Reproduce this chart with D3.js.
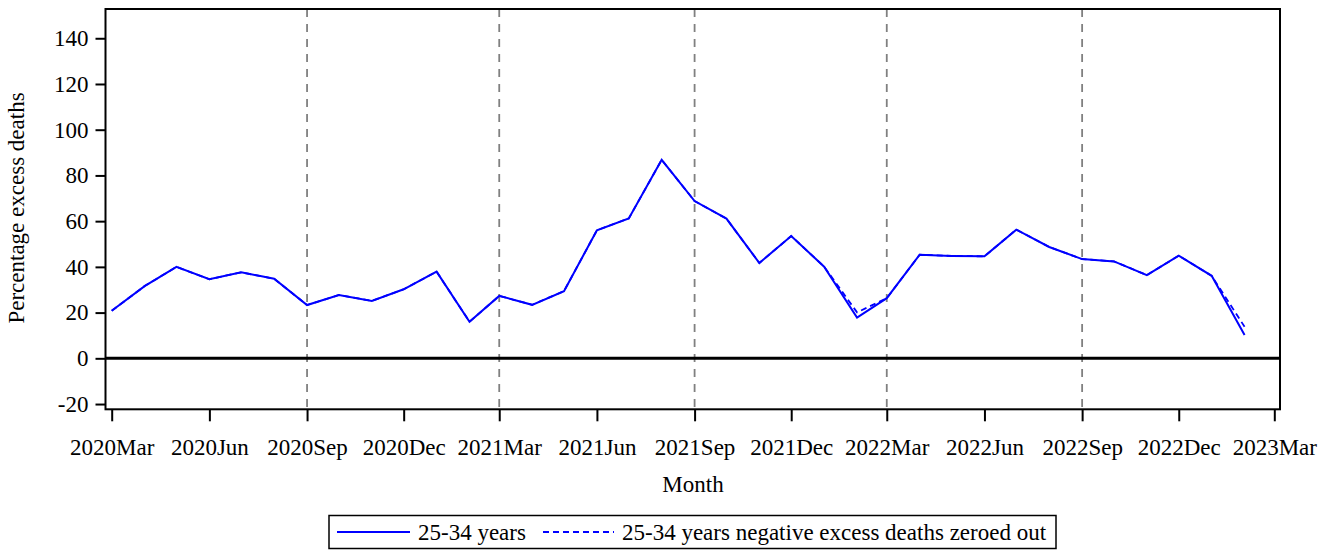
<!DOCTYPE html>
<html>
<head>
<meta charset="utf-8">
<script src="https://cdn.jsdelivr.net/npm/d3@7"></script>
<style>
  body { margin: 0; background: #fff; }
  svg { display: block; }
  svg text { font-family: "Liberation Serif", "Times New Roman", serif !important; }
</style>
</head>
<body>
<svg id="chart" width="1336" height="550"></svg>
<script>
const months = ["2020-03","2020-04","2020-05","2020-06","2020-07","2020-08","2020-09","2020-10","2020-11","2020-12",
  "2021-01","2021-02","2021-03","2021-04","2021-05","2021-06","2021-07","2021-08","2021-09","2021-10","2021-11","2021-12",
  "2022-01","2022-02","2022-03","2022-04","2022-05","2022-06","2022-07","2022-08","2022-09","2022-10","2022-11","2022-12",
  "2023-01","2023-02"];
const excess = [20.8,31.6,40.0,34.6,37.6,34.8,23.3,27.7,25.1,30.2,
  37.9,16.0,27.3,23.4,29.4,56.0,61.2,86.8,68.8,61.1,41.7,53.5,
  40.1,17.8,26.3,45.3,44.8,44.6,56.3,48.7,43.4,42.4,36.4,44.9,
  36.1,10.2];
const excessZeroed = [20.8,31.6,40.0,34.6,37.6,34.8,23.3,27.7,25.1,30.2,
  37.9,16.0,27.3,23.4,29.4,56.0,61.2,86.8,68.8,61.1,41.7,53.5,
  40.1,20.1,26.3,45.3,44.8,44.6,56.3,48.7,43.4,42.4,36.4,44.9,
  36.1,13.8];
const xTickLabels = ["2020-03","2020-06","2020-09","2020-12","2021-03","2021-06","2021-09","2021-12","2022-03","2022-06","2022-09","2022-12","2023-03"];
const refLineMonths = ["2020-09","2021-03","2021-09","2022-03","2022-09"];
const yTicks = [-20,0,20,40,60,80,100,120,140];
const seriesNames = ["25-34 years","25-34 years negative excess deaths zeroed out"];

const parse = d3.timeParse("%Y-%m");
const fmt = d3.timeFormat("%Y%b");
const svg = d3.select("#chart");
const SERIF = '"Liberation Serif", "Times New Roman", serif';

const L = 105.5, R = 1280, T = 9, B = 409.3;
const x = d3.scaleTime().domain([parse("2020-03"), parse("2023-03")]).range([111.7, 1274.3]);
const y = d3.scaleLinear().domain([-22.3, 152.8]).range([B, T]);

// reference vertical dashed lines
svg.append("g").selectAll("line").data(refLineMonths).join("line")
  .attr("x1", d => x(parse(d))).attr("x2", d => x(parse(d)))
  .attr("y1", T).attr("y2", B)
  .attr("stroke", "#808080").attr("stroke-width", 1.8).attr("stroke-dasharray", "8,7");

// zero line
svg.append("line").attr("x1", L).attr("x2", R).attr("y1", y(0)).attr("y2", y(0))
  .attr("stroke", "#000").attr("stroke-width", 3);

// series
const pts = a => a.map((v, i) => [parse(months[i]), v]);
const line = d3.line().x(d => x(d[0])).y(d => y(d[1]));
svg.append("path").datum(pts(excessZeroed)).attr("d", line)
  .attr("fill", "none").attr("stroke", "#0000ff").attr("stroke-width", 1.8).attr("stroke-dasharray", "6,4");
svg.append("path").datum(pts(excess)).attr("d", line)
  .attr("fill", "none").attr("stroke", "#0000ff").attr("stroke-width", 2);

// frame
svg.append("rect").attr("x", L).attr("y", T).attr("width", R - L).attr("height", B - T)
  .attr("fill", "none").attr("stroke", "#000").attr("stroke-width", 2);

// axes
const xAxis = d3.axisBottom(x).tickValues(xTickLabels.map(parse)).tickFormat(fmt).tickSize(12).tickPadding(10);
const gx = svg.append("g").attr("transform", `translate(0,${B})`).call(xAxis)
  .style("font-family", SERIF).style("font-size", "23px");
gx.select(".domain").remove();
gx.selectAll(".tick line").attr("stroke", "#000").attr("stroke-width", 2);
gx.selectAll(".tick text").style("font-family", SERIF).style("font-size", "23px").attr("fill", "#000").attr("dy", "1.02em");

const yAxis = d3.axisLeft(y).tickValues(yTicks).tickFormat(d => String(d)).tickSize(10).tickPadding(7);
const gy = svg.append("g").attr("transform", `translate(${L},0)`).call(yAxis)
  .style("font-family", SERIF).style("font-size", "23px");
gy.select(".domain").remove();
gy.selectAll(".tick line").attr("stroke", "#000").attr("stroke-width", 2);
gy.selectAll(".tick text").style("font-family", SERIF).style("font-size", "23px").attr("fill", "#000");

// axis titles
svg.append("text").attr("x", 693).attr("y", 492).attr("text-anchor", "middle")
  .style("font-size", "23px").text("Month");
svg.append("text").attr("transform", "translate(24,208) rotate(-90)").attr("text-anchor", "middle")
  .style("font-size", "23px").text("Percentage excess deaths");

// legend
const lg = svg.append("g");
lg.append("rect").attr("x", 329).attr("y", 515.5).attr("width", 727).attr("height", 33)
  .attr("fill", "none").attr("stroke", "#000").attr("stroke-width", 1.5);
lg.append("line").attr("x1", 337).attr("x2", 410).attr("y1", 532).attr("y2", 532)
  .attr("stroke", "#0000ff").attr("stroke-width", 2);
lg.append("text").attr("x", 418).attr("y", 540).style("font-size", "23px").text(seriesNames[0]);
lg.append("line").attr("x1", 543).attr("x2", 614).attr("y1", 532).attr("y2", 532)
  .attr("stroke", "#0000ff").attr("stroke-width", 2).attr("stroke-dasharray", "6,4");
lg.append("text").attr("x", 622).attr("y", 540).style("font-size", "23px").text(seriesNames[1]);
</script>
</body>
</html>
